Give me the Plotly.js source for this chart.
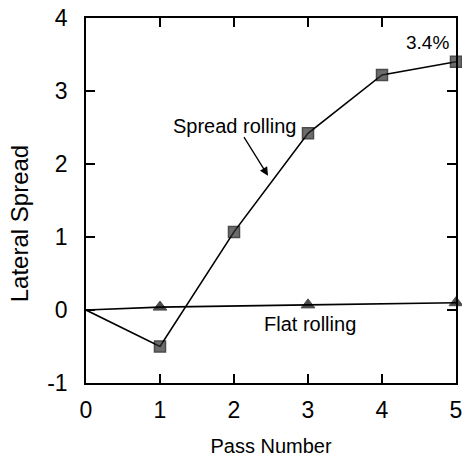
<!DOCTYPE html>
<html>
<head>
<meta charset="utf-8">
<script src="https://cdn.plot.ly/plotly-3.0.1.min.js"></script>
<style>html,body{margin:0;padding:0;background:#fff;}#chart{width:462px;height:459px;}</style>
</head>
<body>
<div id="chart"></div>
<script>
const spreadPass = [0, 1, 2, 3, 4, 5];
const spreadValues = [0, -0.5, 1.07, 2.42, 3.22, 3.4];
const flatPass = [0, 1, 3, 5];
const flatValues = [0, 0.04, 0.07, 0.1];
const xTicks = [0, 1, 2, 3, 4, 5];
const yTicks = [-1, 0, 1, 2, 3, 4];

const font = 'Liberation Sans, Arial, sans-serif';

const traces = [
  {
    x: spreadPass, y: spreadValues, mode: 'lines+markers', type: 'scatter',
    line: {color: '#000', width: 1.6},
    marker: {symbol: 'square', size: spreadPass.map(p => p === 0 ? 0 : 11), color: '#2e2e2e', line: {color: '#000', width: 1.5}},
    showlegend: false, cliponaxis: false
  },
  {
    x: flatPass, y: flatValues, mode: 'lines+markers', type: 'scatter',
    line: {color: '#000', width: 1.6},
    marker: {symbol: 'triangle-up', size: flatPass.map(p => p === 0 ? 0 : 12), color: '#000', line: {color: '#000', width: 1}},
    showlegend: false, cliponaxis: false
  }
];

const axisCommon = {
  showgrid: false, zeroline: false, showline: true, linecolor: '#000', linewidth: 1.8,
  mirror: 'allticks', ticks: 'inside', ticklen: 9, tickwidth: 1.5, tickcolor: '#000',
  ticklabeloverflow: 'allow',
  tickfont: {family: font, size: 23, color: '#000'}
};

const layout = {
  width: 462, height: 459,
  margin: {l: 86, r: 6, t: 18, b: 76},
  paper_bgcolor: '#fff', plot_bgcolor: '#fff',
  xaxis: Object.assign({}, axisCommon, {
    range: [0, 5], tickvals: xTicks, ticktext: xTicks.map(String),
    ticklabelstandoff: 6,
    title: {text: 'Pass Number', font: {family: font, size: 20, color: '#000'}, standoff: 16}
  }),
  yaxis: Object.assign({}, axisCommon, {
    range: [-1, 4], tickvals: yTicks, ticktext: yTicks.map(String),
    ticklabelstandoff: 12
  }),
  annotations: [
    {x: -0.181, y: 0.435, xref: 'paper', yref: 'paper', text: 'Lateral Spread', textangle: -90,
     showarrow: false, xanchor: 'center', yanchor: 'middle',
     font: {family: font, size: 24, color: '#000'}},
    {x: 2.01, y: 2.52, xref: 'x', yref: 'y', text: 'Spread rolling', showarrow: false,
     font: {family: font, size: 20, color: '#000'}},
    {x: 2.46, y: 1.84, xref: 'x', yref: 'y', text: '', showarrow: true,
     ax: -25, ay: -40, arrowhead: 2, arrowsize: 1.3, arrowwidth: 1.3, arrowcolor: '#000'},
    {x: 4.62, y: 3.66, xref: 'x', yref: 'y', text: '3.4%', showarrow: false,
     font: {family: font, size: 19, color: '#000'}},
    {x: 3.03, y: -0.19, xref: 'x', yref: 'y', text: 'Flat rolling', showarrow: false,
     font: {family: font, size: 20, color: '#000'}}
  ]
};

Plotly.newPlot('chart', traces, layout, {displayModeBar: false, staticPlot: true});
</script>
</body>
</html>
